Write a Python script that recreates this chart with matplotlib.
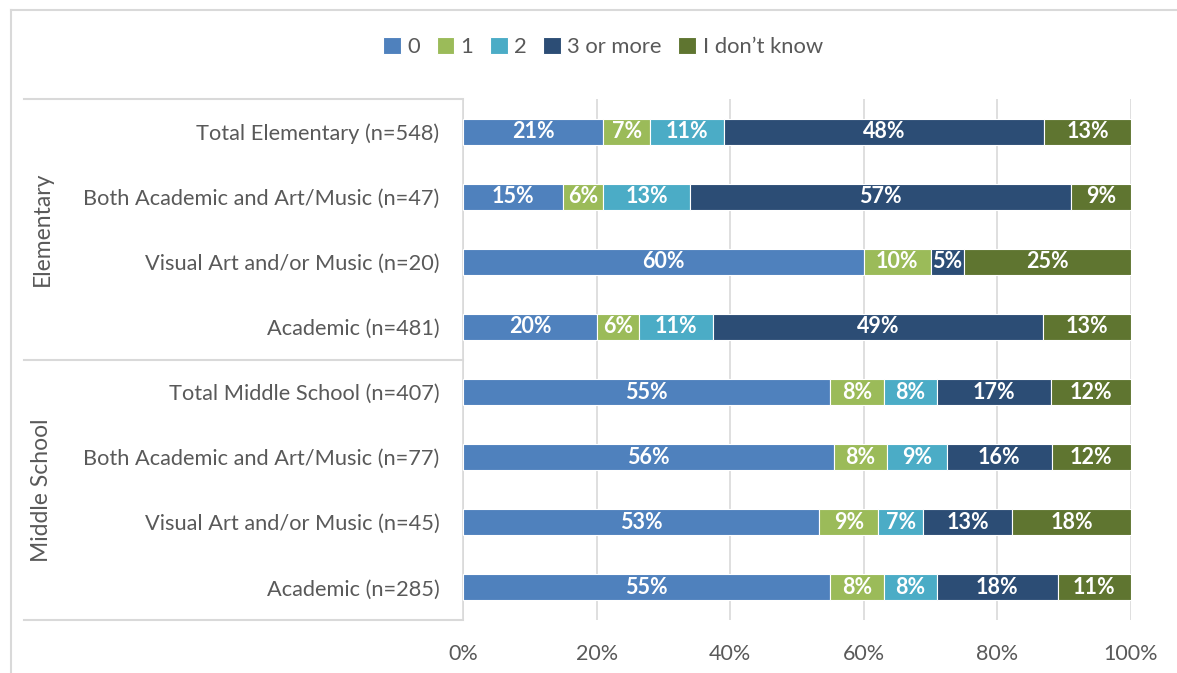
import matplotlib.pyplot as plt
from matplotlib.lines import Line2D
import numpy as np

plt.rcParams['font.family'] = ['Lato', 'DejaVu Sans']

categories = [
    'Total Elementary (n=548)',
    'Both Academic and Art/Music (n=47)',
    'Visual Art and/or Music (n=20)',
    'Academic (n=481)',
    'Total Middle School (n=407)',
    'Both Academic and Art/Music (n=77)',
    'Visual Art and/or Music (n=45)',
    'Academic (n=285)',
]
groups = ['Elementary', 'Middle School']

series_names = ['0', '1', '2', '3 or more', 'I don\u2019t know']
zero = [21, 15, 60, 20.1, 55, 55.6, 53.3, 55]
one = [7, 6, 10, 6.2, 8, 7.8, 8.9, 8]
two = [11, 13, 0, 11.1, 8, 9.1, 6.7, 8]
three_plus = [48, 57, 5, 49.4, 17, 15.6, 13.3, 18]
dont_know = [13, 9, 25, 13.2, 12, 11.9, 17.8, 11]

colors = ['#4F81BD', '#9BBB59', '#4BACC6', '#2C4D75', '#5F7530']
text_grey = '#595959'
line_grey = '#D9D9D9'

W, H = 1177, 673
fig = plt.figure(figsize=(W / 100, H / 100), dpi=100)
ax = fig.add_axes([463 / W, 1 - 620 / H, (1131 - 463) / W, (620 - 99) / H])

y = np.arange(len(categories))
left = np.zeros(len(categories))
for name, vals, col in zip(series_names, [zero, one, two, three_plus, dont_know], colors):
    vals = np.array(vals)
    bars = ax.barh(y, vals / 100, left=left / 100, height=0.4, color=col,
                   edgecolor='white', linewidth=0.8, label=name, zorder=3)
    labels = [f'{v:.0f}%' if v > 0 else '' for v in vals]
    ax.bar_label(bars, labels=labels, label_type='center', color='white',
                 fontweight='bold', fontsize=15.5)
    left += vals

ax.set_ylim(len(categories) - 0.5, -0.5)
ax.set_xlim(0, 1)
ax.set_yticks(y)
ax.set_yticklabels(categories, fontsize=15.7, color=text_grey)
ax.set_xticks(np.linspace(0, 1, 6))
ax.set_xticklabels([f'{int(t * 100)}%' for t in np.linspace(0, 1, 6)], fontsize=15.5, color=text_grey)
ax.tick_params(axis='both', length=0)
ax.tick_params(axis='y', pad=17)
ax.tick_params(axis='x', pad=17)
ax.grid(axis='x', color=line_grey, linewidth=1.2, zorder=0)
for s in ['top', 'right', 'bottom']:
    ax.spines[s].set_visible(False)
ax.spines['left'].set_color(line_grey)
ax.spines['left'].set_linewidth(1.2)

# group separators and labels on the left
x0 = (24 - 463) / (1131 - 463)
for yy in [1.0, 0.5, 0.0]:
    ax.add_line(Line2D([x0, 0], [yy, yy], transform=ax.transAxes, color=line_grey,
                       linewidth=1.5, clip_on=False))
xg = (42 - 463) / (1131 - 463)
ax.text(xg, 0.75, groups[0], transform=ax.transAxes, rotation=90, ha='center',
        va='center', fontsize=16.5, color=text_grey)
ax.text(xg, 0.25, groups[1], transform=ax.transAxes, rotation=90, ha='center',
        va='center', fontsize=16.5, color=text_grey)

# outer chart frame
fig.add_artist(Line2D([11 / W, 11 / W], [0, 1 - 10 / H], color=line_grey, linewidth=1.5))
fig.add_artist(Line2D([11 / W, 1], [1 - 10 / H, 1 - 10 / H], color=line_grey, linewidth=1.5))

fig.legend(loc='center', bbox_to_anchor=(603 / W, 1 - 47 / H), ncol=5, frameon=False,
           handlelength=0.8, handleheight=0.8, handletextpad=0.3, columnspacing=0.75,
           fontsize=15.8, labelcolor=text_grey)

fig.savefig('out.png', dpi=100)
